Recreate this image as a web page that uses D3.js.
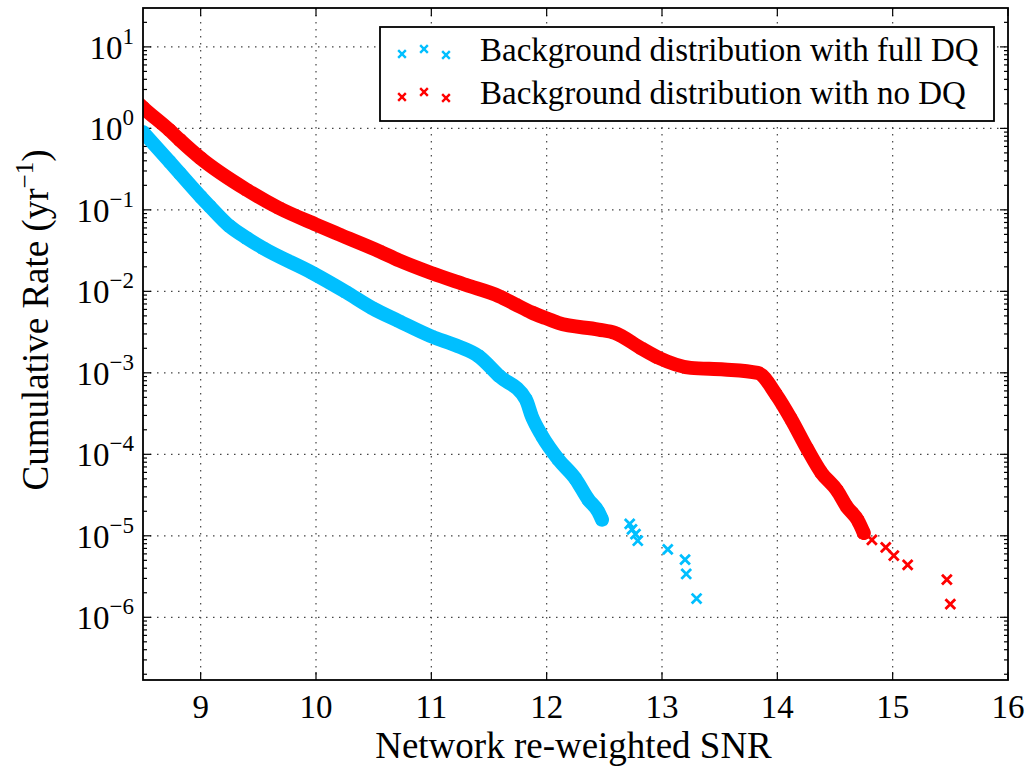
<!DOCTYPE html>
<html>
<head>
<meta charset="utf-8">
<script src="https://cdn.jsdelivr.net/npm/d3@7"></script>
<style>
  body { margin: 0; background: #fff; }
</style>
</head>
<body>
<div id="chart"></div>
<script>
// values
const fullDqDense = [
  [8.5, 0.9], [8.73, 0.39], [8.82, 0.28], [9.0, 0.145], [9.08, 0.11], [9.25, 0.063],
  [9.4, 0.045], [9.54, 0.034], [9.97, 0.0168], [10.26, 0.0098], [10.49, 0.0062],
  [10.72, 0.0043], [11.0, 0.0028], [11.24, 0.0021], [11.41, 0.0016], [11.59, 0.00091],
  [11.82, 0.00047], [11.87, 0.000295], [11.96, 0.000168], [12.1, 8.7e-5], [12.25, 5e-5],
  [12.36, 2.8e-5], [12.45, 1.95e-5], [12.48, 1.58e-5]
];
const fullDqTail = [
  [12.72, 1.4e-5], [12.74, 1.2e-5], [12.77, 1.05e-5], [12.79, 8.7e-6],
  [13.05, 6.8e-6], [13.2, 5.1e-6], [13.21, 3.4e-6], [13.3, 1.7e-6]
];
const noDqDense = [
  [8.45, 2.1], [8.5, 1.8], [8.73, 0.95], [8.82, 0.72], [9.0, 0.43], [9.4, 0.176], [9.68, 0.105],
  [10.0, 0.066], [10.2, 0.05], [10.55, 0.031], [10.72, 0.024], [11.0, 0.0168], [11.3, 0.012],
  [11.59, 0.0087], [11.73, 0.0069], [11.87, 0.0055], [11.99, 0.0047], [12.1, 0.0041],
  [12.45, 0.0034], [12.59, 0.0031], [12.82, 0.002], [12.97, 0.00153], [13.25, 0.00115],
  [13.54, 0.0011], [13.83, 0.001], [13.99, 5.4e-4], [14.12, 2.7e-4],
  [14.26, 1.16e-4], [14.38, 6e-5], [14.52, 3.56e-5], [14.6, 2.3e-5], [14.7, 1.53e-5], [14.75, 1.08e-5]
];
const noDqTail = [
  [14.82, 8.9e-6], [14.94, 7.2e-6], [15.01, 5.7e-6], [15.13, 4.4e-6], [15.47, 2.9e-6], [15.5, 1.45e-6]
];
const xTicks = [9, 10, 11, 12, 13, 14, 15, 16];
const yExponents = [1, 0, -1, -2, -3, -4, -5, -6];
const seriesNames = ['Background distribution with full DQ', 'Background distribution with no DQ'];
const seriesColors = ['#00bfff', '#ff0000'];

const FONT = "'Liberation Serif', 'DejaVu Serif', 'Times New Roman', serif";
const W = 1029, H = 769;
const margin = {top: 8, right: 21, bottom: 89, left: 143};
const width = W - margin.left - margin.right;
const height = H - margin.top - margin.bottom;

const svg = d3.select('#chart').append('svg')
  .attr('width', W).attr('height', H)
  .attr('font-family', FONT);
svg.append('defs').append('clipPath').attr('id', 'plot-clip')
  .append('rect').attr('width', W - margin.left - margin.right).attr('height', H - margin.top - margin.bottom);
const g = svg.append('g')
  .attr('transform', 'translate(' + margin.left + ',' + margin.top + ')');

const x = d3.scaleLinear().domain([8.5, 16]).range([0, width]);
const y = d3.scaleLog().domain([1.7e-7, 30]).range([height, 0]);

// grid
g.append('g').selectAll('line').data(xTicks.slice(0, -1)).enter().append('line')
  .attr('x1', d => x(d)).attr('x2', d => x(d)).attr('y1', 0).attr('y2', height)
  .attr('stroke', '#444').attr('stroke-width', 1.2).attr('stroke-dasharray', '1.5,5.5');
g.append('g').selectAll('line').data(yExponents).enter().append('line')
  .attr('x1', 0).attr('x2', width)
  .attr('y1', d => y(Math.pow(10, d))).attr('y2', d => y(Math.pow(10, d)))
  .attr('stroke', '#444').attr('stroke-width', 1.2).attr('stroke-dasharray', '1.5,5.5');

// ticks (inside, all four sides)
const minor = [];
for (let e = -7; e <= 1; e++) {
  for (let m = 2; m <= 9; m++) {
    const v = m * Math.pow(10, e);
    if (v > 1.7e-7 && v < 30) minor.push(v);
  }
}
const tickG = g.append('g').attr('stroke', '#000').attr('stroke-width', 1.2);
xTicks.forEach(t => {
  tickG.append('line').attr('x1', x(t)).attr('x2', x(t)).attr('y1', height).attr('y2', height - 8);
  tickG.append('line').attr('x1', x(t)).attr('x2', x(t)).attr('y1', 0).attr('y2', 8);
});
yExponents.forEach(e => {
  const yy = y(Math.pow(10, e));
  tickG.append('line').attr('x1', 0).attr('x2', 8).attr('y1', yy).attr('y2', yy);
  tickG.append('line').attr('x1', width).attr('x2', width - 8).attr('y1', yy).attr('y2', yy);
});
minor.forEach(v => {
  const yy = y(v);
  tickG.append('line').attr('x1', 0).attr('x2', 4).attr('y1', yy).attr('y2', yy);
  tickG.append('line').attr('x1', width).attr('x2', width - 4).attr('y1', yy).attr('y2', yy);
});

// data
const line = d3.line().x(d => x(d[0])).y(d => y(d[1])).curve(d3.curveMonotoneX);
const cross = d3.symbol().type(d3.symbolX).size(64);
const dataG = g.append('g').attr('clip-path', 'url(#plot-clip)');

function drawSeries(dense, tail, color) {
  dataG.append('path').datum(dense)
    .attr('d', line)
    .attr('fill', 'none')
    .attr('stroke', color)
    .attr('stroke-width', 14)
    .attr('stroke-linecap', 'round')
    .attr('stroke-linejoin', 'round');
  dataG.append('g').selectAll('path').data(dense.concat(tail)).enter().append('path')
    .attr('d', cross)
    .attr('transform', d => 'translate(' + x(d[0]) + ',' + y(d[1]) + ')')
    .attr('fill', 'none')
    .attr('stroke', color)
    .attr('stroke-width', 2.8);
}
drawSeries(noDqDense, noDqTail, seriesColors[1]);
drawSeries(fullDqDense, fullDqTail, seriesColors[0]);

// frame
g.append('rect').attr('width', width).attr('height', height)
  .attr('fill', 'none').attr('stroke', '#000').attr('stroke-width', 1.8);

// x tick labels
g.append('g').selectAll('text').data(xTicks).enter().append('text')
  .attr('x', d => x(d)).attr('y', height + 38)
  .attr('text-anchor', 'middle')
  .attr('font-size', 33)
  .text(d => d);

// y tick labels
yExponents.forEach(e => {
  const t = g.append('text')
    .attr('x', -9).attr('y', y(Math.pow(10, e)) + 12)
    .attr('text-anchor', 'end')
    .attr('font-size', 33);
  t.append('tspan').text('10');
  t.append('tspan').attr('dy', -15).attr('font-size', 23)
    .text(e < 0 ? '\u2212' + (-e) : String(e));
});

// axis titles
svg.append('text')
  .attr('x', margin.left + width / 2 - 2).attr('y', 758)
  .attr('text-anchor', 'middle')
  .attr('font-size', 37)
  .text('Network re-weighted SNR');

const yl = svg.append('text')
  .attr('transform', 'translate(48,' + 320 + ') rotate(-90)')
  .attr('text-anchor', 'middle')
  .attr('font-size', 37);
yl.append('tspan').text('Cumulative Rate (yr');
yl.append('tspan').attr('dy', -15).attr('font-size', 25).text('\u22121');
yl.append('tspan').attr('dy', 15).text(')');

// legend
const legend = svg.append('g').attr('transform', 'translate(380,27)');
legend.append('rect').attr('width', 614).attr('height', 94)
  .attr('fill', '#fff').attr('stroke', '#000').attr('stroke-width', 1.8);
const markerOffsets = [[22, 4], [44, -1], [66, 5]];
seriesNames.forEach((name, i) => {
  const cy = 23 + i * 43;
  markerOffsets.forEach(o => {
    legend.append('path')
      .attr('d', d3.symbol().type(d3.symbolX).size(40))
      .attr('transform', 'translate(' + o[0] + ',' + (cy + o[1]) + ')')
      .attr('fill', 'none')
      .attr('stroke', seriesColors[i])
      .attr('stroke-width', 2.4);
  });
  legend.append('text')
    .attr('x', 100).attr('y', cy + 11)
    .attr('font-size', 33)
    .text(name);
});
</script>
</body>
</html>
